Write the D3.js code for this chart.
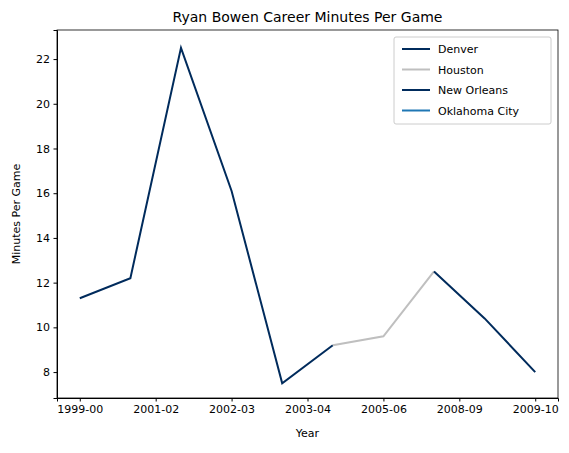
<!DOCTYPE html><html><head><script src="https://cdn.jsdelivr.net/npm/d3@7"></script>
<style>body{margin:0;background:#fff}text{font-family:"DejaVu Sans",sans-serif}</style></head><body><svg width="569" height="453"></svg>
<script>
const seasons=["1999-00","2000-01","2001-02","2002-03","2003-04","2004-05","2005-06","2007-08","2008-09","2009-10"];
const minutes=[11.3,12.2,22.5,16.1,7.5,9.2,9.6,12.5,10.4,8.0];
const teams=["Denver","Houston","New Orleans","Oklahoma City"];
const teamColors=["#002b5c","#bfbfbf","#002b5c","#1f77b4"];
const teamRanges=[[0,5],[5,7],[7,9],[9,9]];
const tickPos=[0,1.5,3,4.5,6,7.5,9];
const tickLabels=["1999-00","2001-02","2002-03","2003-04","2005-06","2008-09","2009-10"];
const yTicks=[8,10,12,14,16,18,20,22];
const L=57,R=558,T=30,B=398;
const svg=d3.select("svg");
const x=d3.scaleLinear().domain([-0.45,9.45]).range([L,R]);
const y=d3.scaleLinear().domain([6.84,23.3]).range([B,T]);
svg.append("g").attr("transform",`translate(0,${B})`).call(d3.axisBottom(x).tickValues(tickPos).tickFormat((d,i)=>tickLabels[i]).tickSizeOuter(0).tickSize(3.5).tickPadding(3.5)).call(g=>g.selectAll("text").attr("font-size",11).attr("fill","#000"));
svg.append("g").attr("transform",`translate(${L},0)`).call(d3.axisLeft(y).tickValues(yTicks).tickSizeOuter(0).tickSize(3.5).tickPadding(3.5)).call(g=>g.selectAll("text").attr("font-size",11).attr("fill","#000"));
svg.append("rect").attr("x",L).attr("y",T).attr("width",R-L).attr("height",B-T).attr("fill","none").attr("stroke","#000").attr("stroke-width",0.8);
const line=d3.line().x(i=>x(i)).y(i=>y(minutes[i]));
teams.forEach((t,k)=>{const [a,b]=teamRanges[k];const idx=d3.range(a,b+1);
svg.append("path").attr("d",line(idx)).attr("fill","none").attr("stroke",teamColors[k]).attr("stroke-width",2);});
svg.append("text").attr("x",(L+R)/2).attr("y",T-8).attr("text-anchor","middle").attr("font-size",14).text("Ryan Bowen Career Minutes Per Game");
svg.append("text").attr("x",(L+R)/2).attr("y",437).attr("text-anchor","middle").attr("font-size",11).text("Year");
svg.append("text").attr("transform",`translate(20,${(T+B)/2}) rotate(-90)`).attr("text-anchor","middle").attr("font-size",11).text("Minutes Per Game");
const lg=svg.append("g");
lg.append("rect").attr("x",394).attr("y",37).attr("width",157).attr("height",87).attr("rx",2).attr("fill","#fff").attr("stroke","#ccc");
teams.forEach((t,k)=>{const yy=49+k*20.5;
lg.append("line").attr("x1",402).attr("x2",430).attr("y1",yy).attr("y2",yy).attr("stroke",teamColors[k]).attr("stroke-width",2);
lg.append("text").attr("x",438).attr("y",yy+4).attr("font-size",11).text(t);});
</script></body></html>
